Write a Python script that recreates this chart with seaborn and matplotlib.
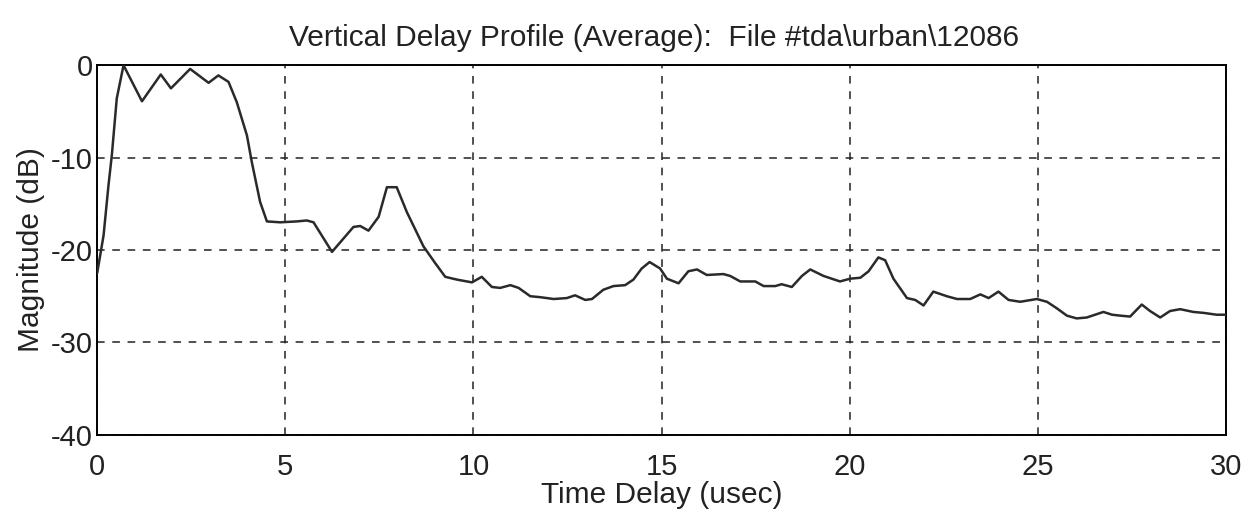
import matplotlib
matplotlib.use("Agg")
import matplotlib.pyplot as plt
import seaborn as sns
import pandas as pd

time_us = [0.0, 0.17, 0.30, 0.39, 0.52, 0.70, 1.19, 1.69, 1.96, 2.47, 2.96, 3.22, 3.49,
           3.71, 3.98, 4.11, 4.33, 4.51, 4.86, 5.31, 5.57, 5.75, 6.24, 6.81, 6.99, 7.21,
           7.48, 7.70, 7.96, 8.23, 8.67, 8.98, 9.25, 9.56, 9.96, 10.22, 10.49, 10.71,
           10.98, 11.20, 11.51, 11.77, 12.13, 12.48, 12.70, 12.97, 13.15, 13.45, 13.72,
           14.03, 14.25, 14.47, 14.68, 14.96, 15.14, 15.45, 15.71, 15.94, 16.20, 16.64,
           16.82, 17.09, 17.49, 17.71, 18.02, 18.19, 18.46, 18.73, 18.95, 19.30, 19.74,
           20.01, 20.28, 20.50, 20.76, 20.94, 21.16, 21.52, 21.74, 21.96, 22.22, 22.58,
           22.85, 23.20, 23.47, 23.69, 23.95, 24.22, 24.53, 24.97, 25.24, 25.50, 25.77,
           26.03, 26.30, 26.74, 26.97, 27.19, 27.45, 27.76, 27.98, 28.25, 28.51, 28.78,
           29.13, 29.40, 29.75, 30.0]
magnitude_db = [-22.5, -18.4, -13.0, -9.7, -3.6, 0.0, -3.9, -1.0, -2.5, -0.4, -1.9, -1.1, -1.8,
                -4.0, -7.6, -10.5, -14.8, -16.9, -17.0, -16.9, -16.8, -17.0, -20.2, -17.5, -17.4, -17.9,
                -16.4, -13.2, -13.2, -15.9, -19.6, -21.4, -22.9, -23.2, -23.5, -22.9, -24.0, -24.1,
                -23.8, -24.1, -25.0, -25.1, -25.3, -25.2, -24.9, -25.4, -25.3, -24.3, -23.9,
                -23.8, -23.2, -22.0, -21.3, -22.0, -23.1, -23.6, -22.3, -22.1, -22.7, -22.6,
                -22.8, -23.4, -23.4, -23.9, -23.9, -23.7, -24.0, -22.8, -22.1, -22.8, -23.4,
                -23.1, -23.0, -22.3, -20.8, -21.1, -23.1, -25.2, -25.4, -26.0, -24.5, -25.0,
                -25.3, -25.3, -24.8, -25.2, -24.5, -25.4, -25.6, -25.3, -25.6, -26.3, -27.1,
                -27.4, -27.3, -26.7, -27.0, -27.1, -27.2, -25.9, -26.6, -27.3, -26.6, -26.4,
                -26.7, -26.8, -27.0, -27.0]

x_ticks = [0, 5, 10, 15, 20, 25, 30]
y_ticks = [0, -10, -20, -30, -40]
title = "Vertical Delay Profile (Average):  File #tda\\urban\\12086"

sns.set_theme(style="white")
plt.rcParams['font.family'] = ['Liberation Sans', 'DejaVu Sans']

df = pd.DataFrame({"t": time_us, "m": magnitude_db})

fig = plt.figure(figsize=(12.46, 5.22), dpi=100)
ax = fig.add_axes([0.078, 0.167, 0.906, 0.708])
sns.lineplot(data=df, x="t", y="m", ax=ax, color="#2a2a2a", linewidth=1.8, zorder=3)

ax.set_xlim(0, 30)
ax.set_ylim(-40, 0)
ax.set_xticks(x_ticks)
ax.set_yticks(y_ticks)
ax.set_xticklabels([str(v) for v in x_ticks], fontsize=21, color="#222222")
ax.set_yticklabels([str(v) for v in y_ticks], fontsize=21, color="#222222")
ax.tick_params(axis='x', length=0, pad=13)
ax.tick_params(axis='y', length=0, pad=3)
ax.grid(True, color="#222222", linestyle=(0, (5, 5)), linewidth=1.1)
for s in ax.spines.values():
    s.set_color("black")
    s.set_linewidth(1.4)
ax.set_xlabel("Time Delay (usec)", fontsize=21.5, labelpad=0, color="#222222")
ax.set_ylabel("Magnitude (dB)", fontsize=21.5, labelpad=4, color="#222222")
ax.set_title(title, fontsize=21.5, pad=14, color="#222222", x=0.493)
fig.savefig("out.png", dpi=100, facecolor="white")
